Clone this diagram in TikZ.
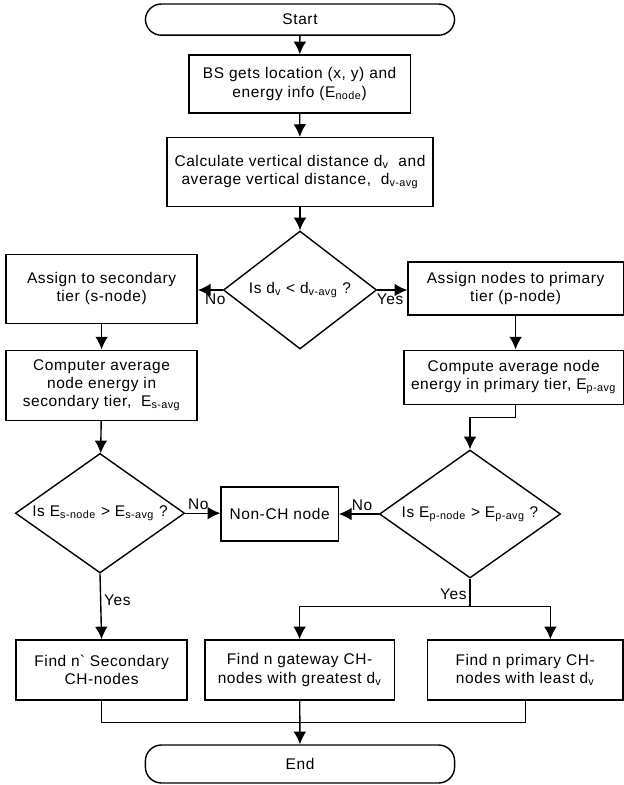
\documentclass[tikz,border=0pt]{standalone}
\usepackage{fontspec}
\setmainfont{Liberation Sans}[LetterSpace=4]
\usepackage{tikz}
\usetikzlibrary{arrows.meta}
\usetikzlibrary{shapes.geometric}
\usetikzlibrary{calc}

\tikzset{
  procbox/.style={draw, line width=1pt, rectangle, align=center, inner sep=0pt},
  termbox/.style={draw, line width=1pt, rectangle, rounded corners=0.4cm, minimum width=7.73cm},
  decision/.style={draw, line width=1pt, diamond, aspect=1.3, inner sep=0pt, align=center},
  lbl/.style={inner sep=2pt}
}

\begin{document}
\begin{tikzpicture}[>={Latex[length=9pt,width=9pt]}, every node/.append style={font=\fontsize{11}{13}\selectfont}]
      \useasboundingbox (0,0) rectangle (15.6,-19.625);
      \node[termbox, minimum height=0.78cm] (start) at (7.5,-0.49) {Start};
      \node[procbox, minimum width=5.53cm, minimum height=1.45cm] (bsinfo) at (7.49,-2.1) {BS gets location (x, y) and\\ energy info (E\textsubscript{node})};
      \node[procbox, minimum width=6.65cm, minimum height=1.72cm] (calcdist) at (7.5,-4.3) {Calculate vertical distance d\textsubscript{v}~ and\\ average vertical distance,~ d\textsubscript{v-avg}};
      \node[decision, minimum width=3.83cm, minimum height=2.95cm] (dcheck) at (7.5,-7.25) {Is d\textsubscript{v} < d\textsubscript{v-avg} ?};
      \node[procbox, minimum width=4.78cm, minimum height=1.73cm] (secassign) at (2.54,-7.22) {Assign to secondary\\ tier (s-node)};
      \node[procbox, minimum width=5.38cm, minimum height=1.33cm] (primassign) at (12.89,-7.21) {Assign nodes to primary\\ tier (p-node)};
      \node[procbox, minimum width=4.78cm, minimum height=1.75cm] (secavg) at (2.54,-9.63) {Computer average\\ node energy in\\ secondary tier,~ E\textsubscript{s-avg}};
      \node[procbox, minimum width=5.48cm, minimum height=1.35cm] (primavg) at (12.84,-9.43) {Compute average node\\ energy in primary tier,~E\textsubscript{p-avg}};
      \node[decision, minimum width=4.23cm, minimum height=2.93cm] (seccheck) at (2.5,-12.83) {Is E\textsubscript{s-node} > E\textsubscript{s-avg} ?};
      \node[procbox, minimum width=2.93cm, minimum height=1.35cm] (nonch) at (6.99,-12.85) {Non-CH node};
      \node[decision, minimum width=4.53cm, minimum height=3.2cm] (primcheck) at (11.75,-12.85) {Is E\textsubscript{p-node} > E\textsubscript{p-avg} ?};
      \node[procbox, minimum width=4.28cm, minimum height=1.5cm] (findsec) at (2.54,-16.75) {Find n\textasciigrave{} Secondary\\ CH-nodes};
      \node[procbox, minimum width=4.73cm, minimum height=1.5cm] (findgw) at (7.49,-16.75) {Find n gateway CH-\\ nodes with greatest d\textsubscript{v}};
      \node[procbox, minimum width=4.88cm, minimum height=1.5cm] (findprim) at (13.13,-16.75) {Find n primary CH-\\ nodes with least d\textsubscript{v}};
      \node[termbox, minimum height=0.95cm] (stop) at (7.5,-19.1) {End};
      % main column
      \draw[line width=1pt,->] (start) -- (bsinfo);
      \draw[line width=1pt,->] (bsinfo) -- (calcdist);
      \draw[line width=1pt,->] (calcdist) -- (dcheck);
      \draw[line width=1pt,->] (dcheck.west) -- node[lbl,below,pos=0.3] {No} (dcheck.west -| secassign.east);
      \draw[line width=1pt,->] (dcheck.east) -- node[lbl,below,pos=0.43] {Yes} (dcheck.east -| primassign.west);
      % secondary side
      \draw[line width=1pt,->] (secassign) -- (secavg);
      \draw[line width=1pt,->] (secavg) -- (seccheck);
      \draw[line width=1pt,->] (seccheck.east) -- node[lbl,above,pos=0.37] {No} (seccheck.east -| nonch.west);
      \draw[line width=1pt,->] (seccheck.south) -- node[lbl,right,pos=0.41] {Yes} (findsec.north);
      % primary side
      \draw[line width=1pt,->] (primassign.south) -- (primassign.south |- primavg.north);
      \draw[line width=1pt,->] (primavg.south -| primassign.south) -- ++(0,-0.32) -| (primcheck.north);
      \draw[line width=1pt,->] (primcheck.west) -- node[lbl,above,pos=0.42] {No} (primcheck.west -| nonch.east);
      \draw[line width=1pt] (primcheck.south) -- node[lbl,left,pos=0.55] {Yes} ++(0,-0.7) coordinate (ysplit);
      \draw[line width=1pt,->] (ysplit) -| (findgw.north);
      \draw[line width=1pt,->] (ysplit) -| ([xshift=0.63cm]findprim.north);
      % join to end
      \draw[line width=1pt] (findsec.south) -- ++(0,-0.55) -| (findprim.south);
      \draw[line width=1pt,->] (findgw) -- (stop);
\end{tikzpicture}
\end{document}
